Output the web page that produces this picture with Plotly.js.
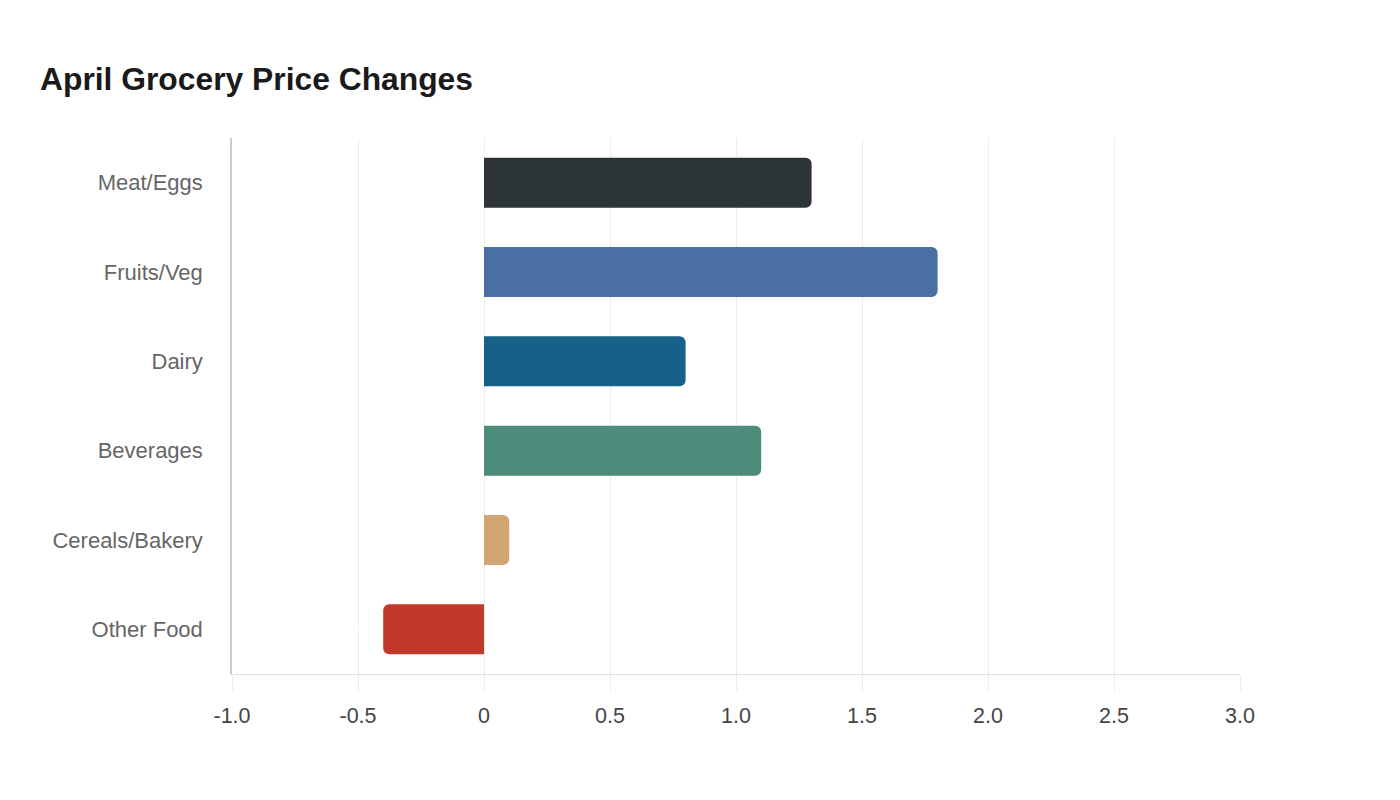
<!DOCTYPE html>
<html>
<head>
<meta charset="utf-8">
<script src="https://cdn.plot.ly/plotly-3.0.1.min.js"></script>
<style>
    html, body { margin: 0; padding: 0; background: #ffffff; }
    #chart { width: 1400px; height: 800px; }
</style>
</head>
<body>
<div id="chart"></div>
<script>
let categories = ['Meat/Eggs', 'Fruits/Veg', 'Dairy', 'Beverages', 'Cereals/Bakery', 'Other Food'];
let changes = [1.3, 1.8, 0.8, 1.1, 0.1, -0.4];
let barColors = ['#2d3436', '#4a6fa5', '#176087', '#4d8c7a', '#d4a574', '#c0392b'];

let tickValues = [-1, -0.5, 0, 0.5, 1, 1.5, 2, 2.5, 3];
let tickLabels = ['-1.0', '-0.5', '0', '0.5', '1.0', '1.5', '2.0', '2.5', '3.0'];

drawChart();

function drawChart() {
    var data = [{
        type: 'bar',
        orientation: 'h',
        x: changes,
        y: categories,
        width: 0.56,
        marker: {
            color: barColors,
            cornerradius: 6
        },
        text: changes.map(function (v) { return v.toFixed(1); }),
        textposition: 'outside',
        textfont: { color: '#ffffff', size: 14 },
        cliponaxis: false,
        hoverinfo: 'x+y'
    }];

    var layout = {
        width: 1400,
        height: 800,
        paper_bgcolor: '#ffffff',
        plot_bgcolor: '#ffffff',
        font: {
            family: 'Liberation Sans, Arial, sans-serif',
            size: 21,
            color: '#444444'
        },
        title: {
            text: 'April Grocery Price Changes',
            font: { size: 31.8, color: '#1a1a1a', weight: 'bold' },
            xref: 'container',
            yref: 'container',
            x: 40 / 1400,
            xanchor: 'left',
            y: 1 - 79 / 800,
            yanchor: 'middle'
        },
        margin: { l: 232, r: 160, t: 138, b: 126 },
        showlegend: false,
        xaxis: {
            range: [-1, 3],
            tickvals: tickValues,
            ticktext: tickLabels,
            showgrid: true,
            gridcolor: '#ececec',
            gridwidth: 1,
            zeroline: false,
            showline: true,
            linecolor: '#e0e0e0',
            linewidth: 1,
            ticks: 'outside',
            ticklen: 16,
            tickcolor: '#ececec',
            ticklabelstandoff: 6,
            tickfont: { size: 21.5, color: '#444444' },
            fixedrange: true
        },
        yaxis: {
            autorange: 'reversed',
            range: [5.5, -0.5],
            showgrid: false,
            zeroline: false,
            showline: true,
            linecolor: '#cccccc',
            linewidth: 1.5,
            ticks: '',
            ticklabelstandoff: 23,
            tickfont: { size: 22, color: '#666666' },
            fixedrange: true
        }
    };

    Plotly.newPlot('chart', data, layout, { displayModeBar: false, responsive: false });
}
</script>
</body>
</html>
